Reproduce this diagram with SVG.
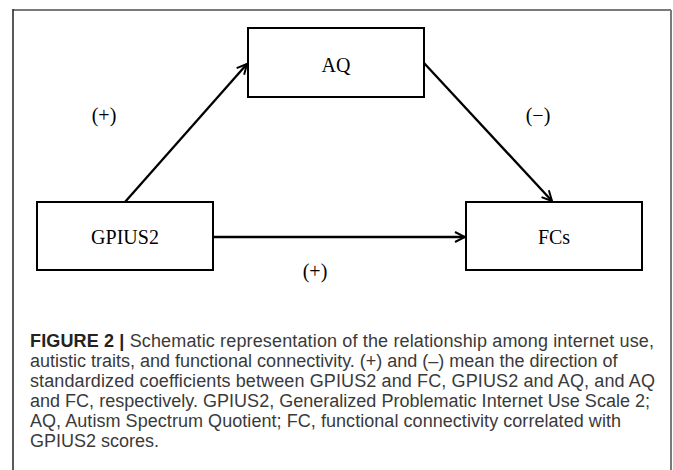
<svg xmlns="http://www.w3.org/2000/svg" width="673" height="470" viewBox="0 0 673 470">
<defs>
<style>
.box{fill:#fff;stroke:#000;stroke-width:2}
.lbl{font-family:"Liberation Serif","Times New Roman",serif;font-size:20px;fill:#000;text-anchor:middle}
.edge{stroke:#000;stroke-width:2.3;fill:none;marker-end:url(#arr)}
.cap{font-family:"Liberation Sans",Arial,sans-serif;font-size:18px;fill:#3a3a3a}
</style>
<marker id="arr" viewBox="0 0 12 12" refX="11" refY="6" markerWidth="12" markerHeight="12" markerUnits="userSpaceOnUse" orient="auto">
<path d="M1,1 L11,6 L1,11" fill="none" stroke="#000" stroke-width="2"/>
</marker>
</defs>
<rect width="673" height="470" fill="#fff"/>
<g id="frame">
<line x1="13" y1="10" x2="671" y2="10" stroke="#7a7a7a" stroke-width="2"/>
<line x1="671" y1="10" x2="671" y2="470" stroke="#7a7a7a" stroke-width="2"/>
<line x1="13" y1="9" x2="13" y2="470" stroke="#222" stroke-width="1.5"/>
</g>
<g id="connectors">
<line class="edge" x1="125" y1="202" x2="247" y2="64"/>
<line class="edge" x1="424" y1="63" x2="552" y2="201"/>
<line class="edge" x1="213" y1="237" x2="465" y2="237"/>
<text class="lbl" x="104" y="122">(+)</text>
<text class="lbl" x="538" y="122">(−)</text>
<text class="lbl" x="315" y="278">(+)</text>
</g>
<g id="AQ">
<rect class="box" x="248" y="28" width="176" height="69"/>
<text class="lbl" x="336" y="72">AQ</text>
</g>
<g id="GPIUS2">
<rect class="box" x="37" y="202" width="176" height="68"/>
<text class="lbl" x="125" y="244">GPIUS2</text>
</g>
<g id="FCs">
<rect class="box" x="466" y="202" width="176" height="68"/>
<text class="lbl" x="554" y="244">FCs</text>
</g>
<g id="caption">
<text class="cap" x="30" y="347" textLength="624" lengthAdjust="spacing"><tspan font-weight="bold" fill="#222">FIGURE 2 |</tspan> Schematic representation of the relationship among internet use,</text>
<text class="cap" x="30" y="367">autistic traits, and functional connectivity. (+) and (–) mean the direction of</text>
<text class="cap" x="30" y="387" textLength="625" lengthAdjust="spacing">standardized coefficients between GPIUS2 and FC, GPIUS2 and AQ, and AQ</text>
<text class="cap" x="30" y="407" textLength="620" lengthAdjust="spacing">and FC, respectively. GPIUS2, Generalized Problematic Internet Use Scale 2;</text>
<text class="cap" x="30" y="427" textLength="591" lengthAdjust="spacing">AQ, Autism Spectrum Quotient; FC, functional connectivity correlated with</text>
<text class="cap" x="30" y="447">GPIUS2 scores.</text>
</g>
</svg>
